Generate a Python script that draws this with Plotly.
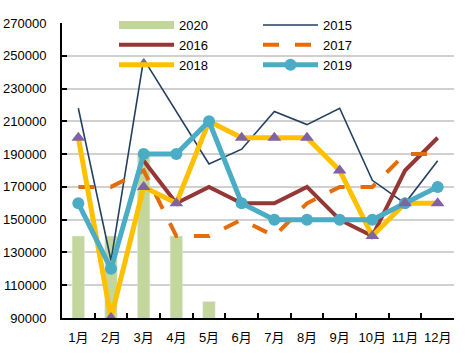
import plotly.graph_objects as go

months = ["1月", "2月", "3月", "4月", "5月", "6月", "7月", "8月", "9月", "10月", "11月", "12月"]
y2020 = [140000, 140000, 190000, 140000, 100000, None, None, None, None, None, None, None]
y2015 = [218000, 125000, 248000, 216000, 184000, 193000, 216000, 208000, 218000, 174000, 160000, 186000]
y2016 = [None, None, 186000, 160000, 170000, 160000, 160000, 170000, 150000, 140000, 180000, 200000]
y2017 = [170000, 170000, 180000, 140000, 140000, 150000, 140000, 160000, 170000, 170000, 190000, 190000]
y2018 = [200000, 90000, 170000, 160000, 210000, 200000, 200000, 200000, 180000, 140000, 160000, 160000]
y2019 = [160000, 120000, 190000, 190000, 210000, 160000, 150000, 150000, 150000, 150000, 160000, 170000]
tri_x = ["1月", "2月", "3月", "3月", "4月", "6月", "7月", "8月", "9月", "10月", "11月", "12月"]
tri_y = [200000, 90000, 170000, 245000, 160000, 200000, 200000, 200000, 180000, 140000, 160000, 160000]
y_ticks = [90000, 110000, 130000, 150000, 170000, 190000, 210000, 230000, 250000, 270000]

FONT = "Liberation Sans, Noto Sans CJK SC, sans-serif"
GREEN = "#C3D69B"

fig = go.Figure()
fig.add_trace(go.Bar(x=months, y=y2020, name="2020", marker_color=GREEN, width=0.38,
                     showlegend=False))
# legend entry for the 2020 bars (wide swatch like the original)
fig.add_trace(go.Scatter(x=[None], y=[None], name="2020", mode="lines",
                         line=dict(color=GREEN, width=8)))
fig.add_trace(go.Scatter(x=months, y=y2015, name="2015", mode="lines",
                         line=dict(color="#243F60", width=1.6)))
fig.add_trace(go.Scatter(x=months, y=y2016, name="2016", mode="lines",
                         line=dict(color="#953735", width=4)))
fig.add_trace(go.Scatter(x=months, y=y2017, name="2017", mode="lines",
                         line=dict(color="#E46C0A", width=4, dash="16px,16px")))
fig.add_trace(go.Scatter(x=months, y=y2018, name="2018", mode="lines",
                         line=dict(color="#FFC000", width=5)))
fig.add_trace(go.Scatter(x=months, y=y2019, name="2019", mode="lines+markers",
                         line=dict(color="#4BACC6", width=5),
                         marker=dict(color="#4BACC6", size=12)))
fig.add_trace(go.Scatter(x=tri_x, y=tri_y, name="", mode="markers", showlegend=False,
                         marker=dict(color="#8064A2", symbol="triangle-up", size=12)))

fig.update_layout(
    width=473, height=355,
    margin=dict(l=62, r=19, t=23, b=37, autoexpand=False),
    plot_bgcolor="white", paper_bgcolor="white",
    font=dict(family=FONT, size=13, color="black"),
    bargap=0.6,
    legend=dict(orientation="h", xref="container", yref="container",
                x=114 / 473, y=1 - 10 / 355, xanchor="left", yanchor="top",
                bgcolor="rgba(0,0,0,0)", entrywidth=74, itemwidth=55,
                font=dict(size=13), traceorder="normal"),
)
fig.update_xaxes(type="category", categoryorder="array", categoryarray=months,
                 range=[-0.5, 11.5],
                 showline=True, linecolor="black", linewidth=2,
                 ticks="inside", tickson="boundaries", ticklen=5, tickcolor="black", tickwidth=2,
                 showgrid=False, tickfont=dict(size=13), ticklabelstandoff=6, tickangle=0)
fig.update_yaxes(range=[90000, 270000], tickvals=y_ticks, ticktext=[str(v) for v in y_ticks],
                 showline=True, linecolor="black", linewidth=2,
                 ticks="inside", ticklen=5, tickcolor="black", tickwidth=2,
                 showgrid=True, gridcolor="#D0D0D0", gridwidth=2,
                 tickfont=dict(size=13), ticklabelstandoff=11, zeroline=False)

fig.write_html("out.html", config={"displayModeBar": False},
               post_script="document.body.style.margin='0';")
